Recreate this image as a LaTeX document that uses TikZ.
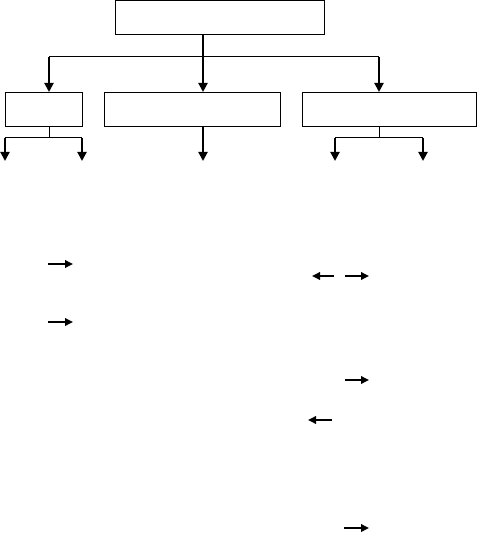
\documentclass[tikz,border=0pt]{standalone}
\usetikzlibrary{arrows.meta}
\begin{document}
\begin{tikzpicture}[x=1pt,y=-1pt,
  box/.style={draw=black, line width=1pt, inner sep=0pt, anchor=north west},
  conn/.style={draw=black, line width=1pt},
  arr/.style={draw=black, line width=2pt, -{Triangle[length=9pt,width=9pt]}},
  sarr/.style={draw=black, line width=1.8pt, -{Triangle[length=8pt,width=7.5pt]}}]
\useasboundingbox[fill=white] (0,0) rectangle (478,534);
% boxes
\node[box, minimum width=209pt, minimum height=34pt] (top) at (115,0.5) {};
\node[box, minimum width=77pt, minimum height=34pt] (b1) at (5,92) {};
\node[box, minimum width=176pt, minimum height=34pt] (b2) at (104,92) {};
\node[box, minimum width=174pt, minimum height=34pt] (b3) at (302,92) {};
% top connectors
\coordinate (tb) at (203,34.5);
\coordinate (hl) at (49,57);
\coordinate (hr) at (379,57);
\draw[conn] (hl) -- (hr);
\draw[arr] (tb) -- (tb |- b2.north);
\draw[arr] (hl) -- (hl |- b1.north);
\draw[arr] (hr) -- (hr |- b3.north);
% under box 1
\coordinate (s1) at (49,126);
\coordinate (j1) at (49,138);
\coordinate (l1) at (5,138);
\coordinate (r1) at (82,138);
\coordinate (l1e) at (5,161);
\coordinate (r1e) at (82,161);
\draw[conn] (s1) -- (j1);
\draw[conn] (l1) -- (r1);
\draw[arr] (l1) -- (l1e);
\draw[arr] (r1) -- (r1e);
% under box 2
\coordinate (s2) at (203,126);
\coordinate (e2) at (203,161);
\draw[arr] (s2) -- (e2);
% under box 3
\coordinate (s3) at (379,126);
\coordinate (j3) at (379,138);
\coordinate (l3) at (335,138);
\coordinate (r3) at (423,138);
\coordinate (l3e) at (335,161);
\coordinate (r3e) at (423,161);
\draw[conn] (s3) -- (j3);
\draw[conn] (l3) -- (r3);
\draw[arr] (l3) -- (l3e);
\draw[arr] (r3) -- (r3e);
% small arrows
\coordinate (a1s) at (48,264); \coordinate (a1e) at (73,264);
\coordinate (a2s) at (48,322); \coordinate (a2e) at (73,322);
\coordinate (a3s) at (334,276); \coordinate (a3e) at (312,276);
\coordinate (a4s) at (345,276); \coordinate (a4e) at (369,276);
\coordinate (a5s) at (345,380); \coordinate (a5e) at (369,380);
\coordinate (a6s) at (332,420); \coordinate (a6e) at (308,420);
\coordinate (a7s) at (344,528); \coordinate (a7e) at (369,528);
\draw[sarr] (a1s) -- (a1e);
\draw[sarr] (a2s) -- (a2e);
\draw[sarr] (a3s) -- (a3e);
\draw[sarr] (a4s) -- (a4e);
\draw[sarr] (a5s) -- (a5e);
\draw[sarr] (a6s) -- (a6e);
\draw[sarr] (a7s) -- (a7e);
\end{tikzpicture}
\end{document}
